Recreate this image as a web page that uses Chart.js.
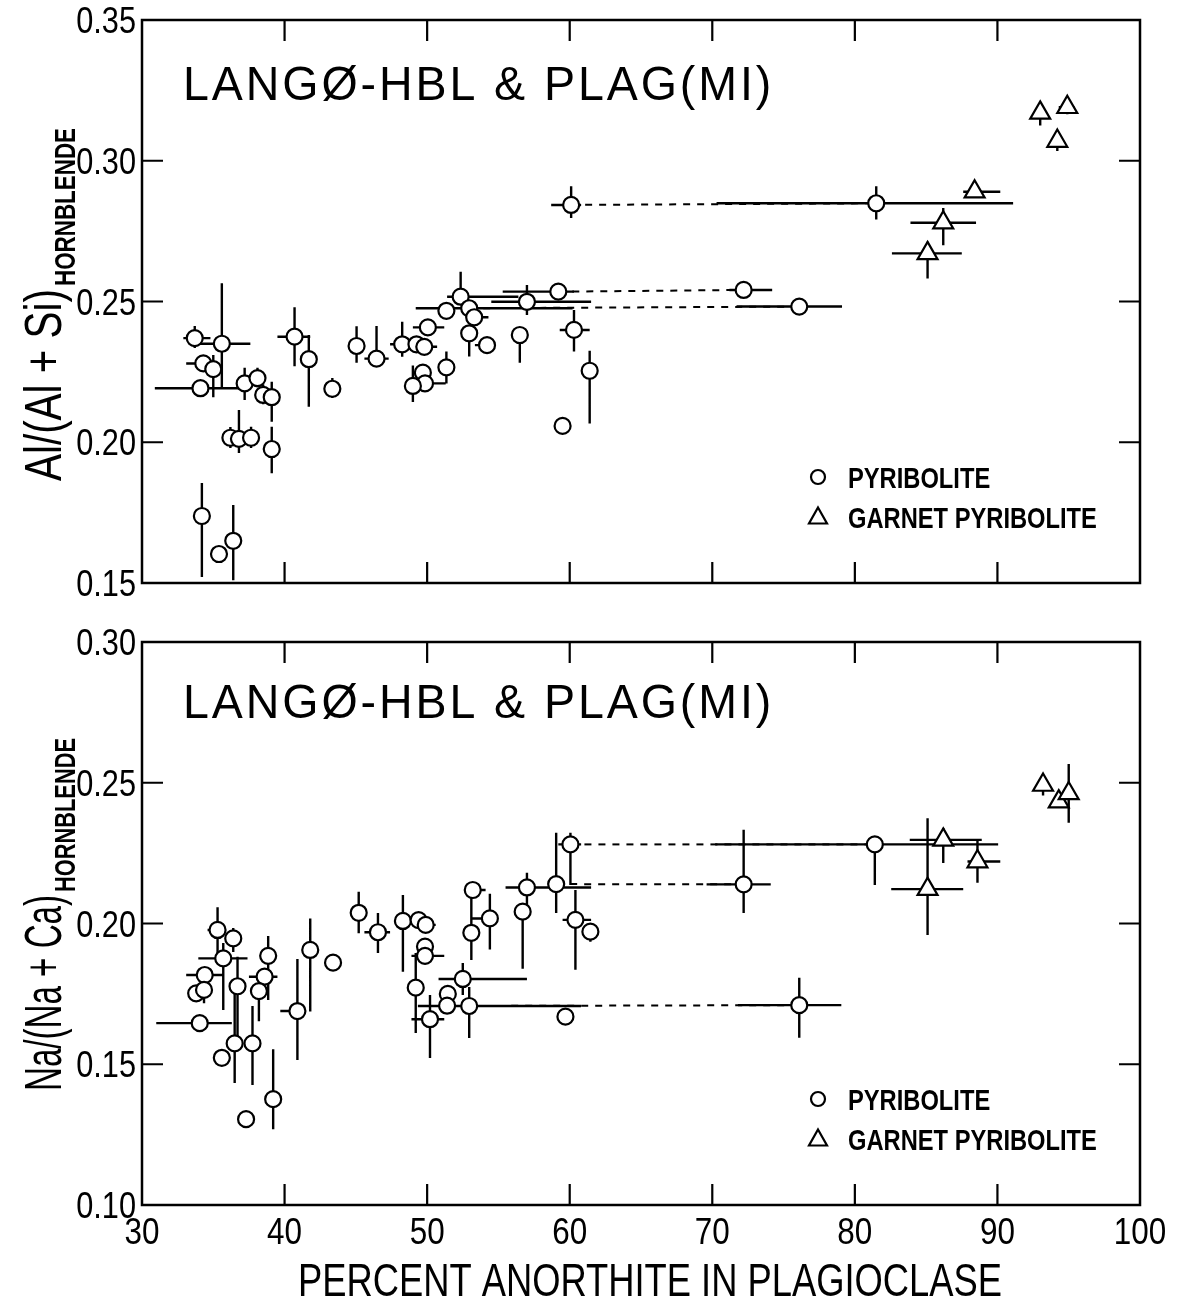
<!DOCTYPE html>
<html>
<head>
<meta charset="utf-8">
<script src="https://cdn.jsdelivr.net/npm/chart.js@4.4.0/dist/chart.umd.min.js"></script>
<style>
  html, body { margin: 0; padding: 0; background: #fff; }
  #wrap { position: relative; width: 1183px; height: 1302px; }
  .panel { position: absolute; left: 0; width: 1183px; }
  #topPanel { top: 0; height: 610px; }
  #botPanel { top: 610px; height: 692px; }
</style>
</head>
<body>
<div id="wrap">
  <div class="panel" id="topPanel"><canvas id="cTop" width="1183" height="610"></canvas></div>
  <div class="panel" id="botPanel"><canvas id="cBot" width="1183" height="692"></canvas></div>
</div>
<script>
// ---- axis ticks ----
const xTicks = [30, 40, 50, 60, 70, 80, 90, 100];
const alTicks = [0.15, 0.20, 0.25, 0.30, 0.35];
const naTicks = [0.10, 0.15, 0.20, 0.25, 0.30];

// ---- rows: [An %, ratio, An low, An high, ratio low, ratio high] (null = no bar) ----
// Al/(Al+Si) of hornblende, pyribolite
const alPyribolite = [
  [33.7, 0.2370, 32.9, 34.8, 0.2335, 0.2413],
  [34.3, 0.2280, 33.1, 34.9, null, null],
  [35.0, 0.2260, null, null, 0.2160, 0.2310],
  [35.6, 0.2350, 33.7, 37.6, 0.2195, 0.2565],
  [34.1, 0.2192, 30.9, 37.2, null, null],
  [37.2, 0.2209, null, null, 0.2150, 0.2265],
  [38.1, 0.2228, null, null, 0.2195, 0.2265],
  [38.5, 0.2168, null, null, 0.2135, 0.2205],
  [39.1, 0.2160, null, null, 0.2073, 0.2215],
  [36.2, 0.2016, null, null, 0.1980, 0.2054],
  [36.8, 0.2012, null, null, 0.1962, 0.2115],
  [37.65, 0.2016, null, null, 0.1980, 0.2055],
  [39.1, 0.1976, null, null, 0.1890, 0.2055],
  [34.2, 0.1738, null, null, 0.1521, 0.1855],
  [35.4, 0.1603, null, null, null, null],
  [36.4, 0.1650, null, null, 0.1510, 0.1777],
  [40.7, 0.2375, 39.5, 41.8, 0.2270, 0.2480],
  [41.7, 0.2295, null, null, 0.2126, 0.2381],
  [43.35, 0.2190, null, null, 0.2157, 0.2228],
  [45.05, 0.2342, null, null, 0.2282, 0.2412],
  [46.45, 0.2297, 45.6, 47.3, 0.2270, 0.2413],
  [48.25, 0.2348, 47.4, 48.8, 0.2304, 0.2428],
  [49.25, 0.2348, null, null, null, null],
  [49.8, 0.2339, 49.0, 50.7, null, null],
  [50.05, 0.2408, 49.0, 51.2, null, null],
  [51.35, 0.2467, null, null, null, null],
  [52.35, 0.2517, 51.4, 56.4, 0.2494, 0.2606],
  [52.95, 0.2476, 49.2, 60.2, null, null],
  [53.3, 0.2444, 52.8, 54.3, null, null],
  [52.95, 0.2387, null, null, 0.2305, 0.2387],
  [54.2, 0.2345, 53.35, 54.6, null, null],
  [51.35, 0.2266, null, null, 0.2209, 0.2322],
  [49.7, 0.2247, null, null, null, null],
  [49.85, 0.2209, 49.85, 51.3, null, null],
  [49.0, 0.2200, null, null, 0.2143, 0.2273],
  [57.0, 0.2499, 54.5, 61.5, 0.2452, 0.2559],
  [59.2, 0.2535, 55.3, 60.3, null, null],
  [56.5, 0.2381, null, null, 0.2282, 0.2381],
  [60.3, 0.2399, 59.3, 61.4, 0.2322, 0.2470],
  [61.4, 0.2254, null, null, 0.2067, 0.2325],
  [59.5, 0.2058, null, null, null, null],
  [60.1, 0.2843, 58.7, 60.8, 0.2797, 0.2909],
  [72.2, 0.2541, 71.2, 74.2, 0.2512, 0.2541],
  [76.1, 0.2482, 71.7, 79.1, null, null],
  [81.5, 0.2849, 70.3, 91.1, 0.2791, 0.2909]
];
// Al/(Al+Si) of hornblende, garnet pyribolite
const alGarnet = [
  [88.4, 0.2890, 87.6, 90.2, null, null],
  [86.2, 0.2780, 83.9, 88.5, 0.2700, 0.2832],
  [85.1, 0.2671, 82.6, 87.5, 0.2582, 0.2712],
  [93.0, 0.3170, null, null, 0.3125, 0.3170],
  [94.9, 0.3190, 94.3, 95.4, 0.3165, 0.3215],
  [94.2, 0.3070, null, null, 0.3035, 0.3070]
];
// same sample, two plagioclase compositions: [An1, ratio1, An2, ratio2]
const alTies = [
  [60.1, 0.2843, 81.5, 0.2849],
  [59.2, 0.2535, 72.2, 0.2541],
  [52.95, 0.2476, 76.1, 0.2482]
];

// Na/(Na+Ca) of hornblende, pyribolite
const naPyribolite = [
  [35.3, 0.1977, 34.6, 35.8, 0.1880, 0.2058],
  [36.4, 0.1947, 36.0, 37.0, 0.1899, 0.1984],
  [35.7, 0.1876, 33.95, 37.4, 0.1693, 0.1931],
  [34.4, 0.1817, 33.1, 35.7, null, null],
  [33.8, 0.1752, null, null, null, null],
  [34.35, 0.1764, null, null, 0.1717, 0.1792],
  [34.05, 0.1646, 31.0, 36.3, 0.1625, 0.1667],
  [36.7, 0.1777, null, null, 0.1575, 0.1882],
  [36.5, 0.1574, null, null, 0.1433, 0.1753],
  [37.75, 0.1574, null, null, 0.1426, 0.1707],
  [35.6, 0.1523, null, null, null, null],
  [38.85, 0.1885, null, null, 0.1728, 0.1956],
  [38.6, 0.1811, 37.5, 39.5, null, null],
  [38.2, 0.1760, null, null, 0.1653, 0.1780],
  [39.2, 0.1376, 38.7, 39.7, 0.1269, 0.1553],
  [37.3, 0.1305, null, null, null, null],
  [40.9, 0.1689, 39.7, 41.5, 0.1515, 0.1874],
  [41.8, 0.1906, null, null, 0.1687, 0.2018],
  [43.4, 0.1861, null, null, null, null],
  [45.2, 0.2038, null, null, 0.1965, 0.2113],
  [46.55, 0.1969, 45.6, 47.4, 0.1895, 0.2037],
  [48.3, 0.2009, 47.7, 48.6, 0.1829, 0.2101],
  [49.4, 0.2012, null, null, null, null],
  [49.9, 0.1995, 49.9, 50.6, null, null],
  [49.85, 0.1918, null, null, null, null],
  [49.85, 0.1885, 48.9, 51.2, null, null],
  [49.2, 0.1772, null, null, 0.1611, 0.1895],
  [50.2, 0.1660, 48.9, 51.2, 0.1522, 0.1746],
  [51.45, 0.1750, null, null, null, null],
  [51.4, 0.1708, null, null, null, null],
  [52.5, 0.1803, 50.8, 57.0, 0.1746, 0.1860],
  [52.95, 0.1707, 49.35, 60.8, 0.1593, 0.1774],
  [53.2, 0.2119, 52.7, 54.1, null, null],
  [53.1, 0.1967, null, null, 0.1870, 0.2108],
  [54.4, 0.2018, 53.1, 54.9, 0.1908, 0.2106],
  [57.0, 0.2128, 55.5, 61.5, 0.2048, 0.2180],
  [56.7, 0.2042, null, null, 0.1839, 0.2042],
  [59.05, 0.2140, null, null, 0.2037, 0.2322],
  [60.4, 0.2013, 59.5, 61.5, 0.1836, 0.2119],
  [61.45, 0.1971, null, null, 0.1935, 0.2002],
  [59.7, 0.1669, null, null, 0.1645, 0.1669],
  [60.05, 0.2281, 59.2, 60.8, 0.2137, 0.2322],
  [72.2, 0.2139, 69.6, 74.1, 0.2037, 0.2333],
  [76.1, 0.1710, 71.8, 79.05, 0.1594, 0.1807],
  [81.4, 0.2281, 70.2, 90.05, 0.2137, 0.2281]
];
// Na/(Na+Ca) of hornblende, garnet pyribolite
const naGarnet = [
  [85.1, 0.2122, 82.55, 87.6, 0.1959, 0.2374],
  [86.2, 0.2297, 83.85, 88.9, 0.2215, 0.2339],
  [88.6, 0.2220, 87.9, 90.2, 0.2145, 0.2297],
  [93.2, 0.2492, null, null, 0.2455, 0.2492],
  [94.3, 0.2433, null, null, null, null],
  [95.0, 0.2462, null, null, 0.2358, 0.2567]
];
const naTies = [
  [60.05, 0.2281, 81.4, 0.2281],
  [59.05, 0.2140, 72.2, 0.2139],
  [52.95, 0.1707, 76.1, 0.1710]
];

const panelLabel = 'LANGØ-HBL & PLAG(MI)';
const seriesNames = ['PYRIBOLITE', 'GARNET PYRIBOLITE'];
const xTitle = 'PERCENT ANORTHITE IN PLAGIOCLASE';

// ---- drawing helpers ----
const FONT = '"Liberation Sans", Arimo, Arial, sans-serif';
const SQ = 0.79; // horizontal squeeze for the condensed lettering

function drawText(ctx, s, x, y, font, o = {}) {
  ctx.save();
  ctx.translate(x, y);
  if (o.rotate) ctx.rotate(o.rotate);
  ctx.scale(o.squeeze || 1, 1);
  ctx.font = font;
  if (o.spacing && 'letterSpacing' in ctx) ctx.letterSpacing = o.spacing;
  ctx.textAlign = o.align || 'left';
  ctx.textBaseline = o.baseline || 'alphabetic';
  ctx.fillStyle = '#000';
  ctx.fillText(s, 0, 0);
  ctx.restore();
}

function textWidth(ctx, s, font) {
  ctx.save(); ctx.font = font;
  const w = ctx.measureText(s).width;
  ctx.restore();
  return w;
}

// error bars, drawn beneath the markers
const errorBars = {
  id: 'errorBars',
  beforeDatasetsDraw(chart) {
    const { ctx, scales: { x, y } } = chart;
    ctx.save();
    ctx.strokeStyle = '#000';
    ctx.lineWidth = 2.4;
    ctx.beginPath();
    chart.data.datasets.forEach(ds => {
      (ds.rows || []).forEach(r => {
        const px = x.getPixelForValue(r[0]);
        const py = y.getPixelForValue(r[1]);
        if (r[2] !== null) {
          ctx.moveTo(x.getPixelForValue(r[2]), py);
          ctx.lineTo(x.getPixelForValue(r[3]), py);
        }
        if (r[4] !== null) {
          ctx.moveTo(px, y.getPixelForValue(r[4]));
          ctx.lineTo(px, y.getPixelForValue(r[5]));
        }
      });
    });
    ctx.stroke();
    ctx.restore();
  }
};

// frame, inward ticks, tick labels, titles and key
const frame = {
  id: 'frame',
  afterDraw(chart, args, opts) {
    const { ctx, chartArea: a, scales: { x, y } } = chart;
    ctx.save();
    ctx.strokeStyle = '#000';
    ctx.lineWidth = 2.5;
    ctx.strokeRect(a.left, a.top, a.right - a.left, a.bottom - a.top);

    const T = 21;
    ctx.beginPath();
    opts.xTicks.forEach(v => {
      if (v <= x.min || v >= x.max) return;
      const px = x.getPixelForValue(v);
      ctx.moveTo(px, a.top); ctx.lineTo(px, a.top + T);
      ctx.moveTo(px, a.bottom); ctx.lineTo(px, a.bottom - T);
    });
    opts.yTicks.forEach(v => {
      if (v <= y.min || v >= y.max) return;
      const py = y.getPixelForValue(v);
      ctx.moveTo(a.left, py); ctx.lineTo(a.left + T, py);
      ctx.moveTo(a.right, py); ctx.lineTo(a.right - T, py);
    });
    ctx.lineWidth = 2.2;
    ctx.stroke();

    const tickFont = `37px ${FONT}`;
    opts.yTicks.forEach(v => {
      drawText(ctx, v.toFixed(2), a.left - 6, y.getPixelForValue(v) + 13, tickFont,
        { align: 'right', squeeze: 0.83 });
    });
    if (opts.xLabels) {
      opts.xTicks.forEach(v => {
        drawText(ctx, String(v), x.getPixelForValue(v), a.bottom + 39, tickFont,
          { align: 'center', squeeze: 0.85 });
      });
      drawText(ctx, xTitle, a.left + 508, a.bottom + 91, `46px ${FONT}`,
        { align: 'center', squeeze: SQ });
    }

    // rotated y title with subscript, each part fitted to its length
    const mainFont = `52px ${FONT}`;
    const subFont = `bold 29px ${FONT}`;
    const sqMain = opts.yMainLen / textWidth(ctx, opts.yMain, mainFont);
    const sqSub = opts.ySubLen / textWidth(ctx, opts.ySub, subFont);
    const cy = (a.top + a.bottom) / 2 + opts.yTitleShift;
    ctx.save();
    ctx.translate(61, cy + (opts.yMainLen + opts.ySubLen + 3) / 2);
    ctx.rotate(-Math.PI / 2);
    ctx.fillStyle = '#000';
    ctx.save(); ctx.scale(sqMain, 1); ctx.font = mainFont; ctx.fillText(opts.yMain, 0, 0); ctx.restore();
    ctx.translate(opts.yMainLen + 3, 0);
    ctx.scale(sqSub, 1); ctx.font = subFont; ctx.fillText(opts.ySub, 0, 14);
    ctx.restore();

    // panel label
    drawText(ctx, panelLabel, a.left + 41, a.top + opts.labelDrop, `48px ${FONT}`,
      { squeeze: 0.97, spacing: '3px' });

    // key
    const kx = a.left + 676, tx = a.left + 706;
    const r1 = a.bottom - 106, r2 = a.bottom - 66;
    ctx.lineWidth = 2.2;
    ctx.fillStyle = '#fff';
    ctx.beginPath(); ctx.arc(kx, r1, 7, 0, Math.PI * 2); ctx.fill(); ctx.stroke();
    ctx.beginPath();
    ctx.moveTo(kx, r2 - 9.5); ctx.lineTo(kx + 9, r2 + 6.5); ctx.lineTo(kx - 9, r2 + 6.5); ctx.closePath();
    ctx.fill(); ctx.stroke();
    const keyFont = `bold 30px ${FONT}`;
    drawText(ctx, seriesNames[0], tx, r1 + 11, keyFont, { squeeze: SQ });
    drawText(ctx, seriesNames[1], tx, r2 + 11, keyFont, { squeeze: SQ });
    ctx.restore();
  }
};

const toPts = rows => rows.map(r => ({ x: r[0], y: r[1] }));

function buildChart(canvas, pyr, gar, ties, yMin, yMax, yTicks, padding, extra) {
  const datasets = [
    { label: seriesNames[0], data: toPts(pyr), rows: pyr, pointStyle: 'circle', pointRadius: 8,
      pointBackgroundColor: '#fff', pointBorderColor: '#000', pointBorderWidth: 2.2 },
    { label: seriesNames[1], data: toPts(gar), rows: gar, pointStyle: 'triangle', pointRadius: 11.5,
      pointBackgroundColor: '#fff', pointBorderColor: '#000', pointBorderWidth: 2.2 }
  ];
  ties.forEach(t => datasets.push({
    data: [{ x: t[0], y: t[1] }, { x: t[2], y: t[3] }], showLine: true, pointRadius: 0,
    borderColor: '#000', borderWidth: 2, borderDash: [7, 7]
  }));
  return new Chart(canvas, {
    type: 'scatter',
    data: { datasets },
    options: {
      responsive: false, animation: false, events: [],
      layout: { padding },
      scales: {
        x: { type: 'linear', min: 30, max: 100, display: false,
             afterBuildTicks: s => { s.ticks = xTicks.map(v => ({ value: v })); } },
        y: { type: 'linear', min: yMin, max: yMax, display: false,
             afterBuildTicks: s => { s.ticks = yTicks.map(v => ({ value: v })); } }
      },
      plugins: {
        legend: { display: false }, tooltip: { enabled: false },
        frame: Object.assign({ xTicks, yTicks }, extra)
      }
    },
    plugins: [errorBars, frame]
  });
}

buildChart(document.getElementById('cTop'), alPyribolite, alGarnet, alTies, 0.15, 0.35, alTicks,
  { left: 142, right: 43, top: 20, bottom: 27 },
  { yMain: 'Al/(Al + Si)', ySub: 'HORNBLENDE', yMainLen: 192, ySubLen: 158, yTitleShift: 3,
    xLabels: false, labelDrop: 80 });

buildChart(document.getElementById('cBot'), naPyribolite, naGarnet, naTies, 0.10, 0.30, naTicks,
  { left: 142, right: 43, top: 32, bottom: 97 },
  { yMain: 'Na/(Na + Ca)', ySub: 'HORNBLENDE', yMainLen: 196, ySubLen: 154, yTitleShift: -9,
    xLabels: true, labelDrop: 76 });
</script>
</body>
</html>
